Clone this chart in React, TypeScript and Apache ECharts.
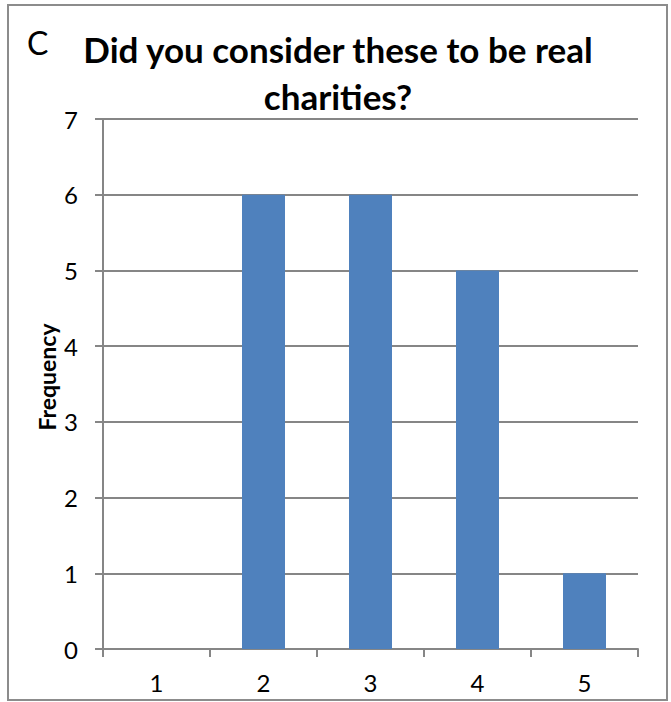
import React, { useEffect, useRef } from "react";
import * as echarts from "echarts";

// Response categories (rating 1–5) and how many people picked each one
const categories = ["1", "2", "3", "4", "5"];
const frequencies = [0, 6, 6, 5, 1];

const titleLines = ["Did you consider these to be real", "charities?"];
const panelLetter = "C";
const yAxisTitle = "Frequency";

const FONT = "Lato, 'Open Sans', sans-serif";
const AXIS_GRAY = "#868686";

export default function App() {
  const ref = useRef<HTMLDivElement>(null);

  useEffect(() => {
    if (!ref.current) return;
    const chart = echarts.init(ref.current, null, { renderer: "svg" });
    chart.setOption({
      animation: false,
      backgroundColor: "#ffffff",
      textStyle: { fontFamily: FONT },
      grid: { left: 103, right: 33, top: 119, bottom: 53, containLabel: false },
      xAxis: {
        type: "category",
        data: categories,
        axisLine: { show: true, lineStyle: { color: AXIS_GRAY, width: 2 } },
        axisTick: { show: true, length: 8, alignWithLabel: false, lineStyle: { color: AXIS_GRAY, width: 2 } },
        axisLabel: { color: "#000000", fontSize: 24, fontFamily: FONT, margin: 21 },
        splitLine: { show: false },
      },
      yAxis: {
        type: "value",
        min: 0,
        max: 7,
        interval: 1,
        axisLine: { show: true, lineStyle: { color: AXIS_GRAY, width: 2 } },
        axisTick: { show: true, length: 8, lineStyle: { color: AXIS_GRAY, width: 2 } },
        axisLabel: { color: "#000000", fontSize: 24, fontFamily: FONT, margin: 25 },
        splitLine: { show: true, lineStyle: { color: AXIS_GRAY, width: 2 } },
      },
      series: [
        {
          type: "bar",
          data: frequencies,
          barWidth: 43,
          itemStyle: { color: "#4F81BD" },
        },
      ],
      graphic: [
        {
          type: "rect",
          shape: { x: 8, y: 5, width: 659, height: 695 },
          style: { fill: "none", stroke: "#8c8c8c", lineWidth: 2 },
          silent: true,
        },
        {
          type: "text",
          x: 27,
          y: 42,
          style: {
            text: panelLetter,
            fontFamily: FONT,
            fontSize: 32,
            fill: "#000000",
            verticalAlign: "middle",
          },
        },
        ...titleLines.map((line, i) => ({
          type: "text",
          x: 338,
          y: 49 + i * 47,
          style: {
            text: line,
            fontFamily: FONT,
            fontWeight: "bold",
            fontSize: 35,
            fill: "#000000",
            align: "center",
            verticalAlign: "middle",
          },
        })),
        {
          type: "text",
          x: 47,
          y: 377,
          rotation: Math.PI / 2,
          style: {
            text: yAxisTitle,
            fontFamily: FONT,
            fontWeight: "bold",
            fontSize: 23,
            fill: "#000000",
            align: "center",
            verticalAlign: "middle",
          },
        },
      ],
    });
    return () => chart.dispose();
  }, []);

  return (
    <div
      ref={ref}
      style={{ position: "fixed", left: 0, top: 0, width: 671, height: 702 }}
    />
  );
}
